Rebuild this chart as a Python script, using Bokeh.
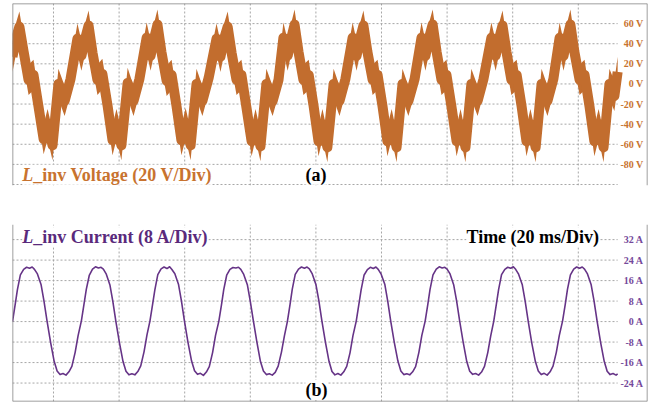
from bokeh.plotting import figure
from bokeh.layouts import column
from bokeh.models import Range1d, Label, Span
from bokeh.core.properties import value
from bokeh.embed import file_html
from bokeh.resources import INLINE

# ---------------- data (time in ms from start of trace) ----------------
# L_inv voltage: centre of the switching band (V), read at the turning points
voltage_t = [0.0,
    1.2, 2.1, 3.4, 4.9, 6.4, 7.9, 9.5, 10.7, 12.2, 14.0, 15.9, 17.7,
    19.8, 21.0, 22.3, 23.2, 24.4, 25.9, 27.4, 29.0, 30.5, 31.7, 33.2, 35.1, 36.9, 38.7,
    40.9, 42.1, 43.3, 44.2, 45.4, 47.0, 48.5, 50.0, 51.5, 52.8, 54.3, 56.1, 57.9, 59.8,
    62.2, 63.4, 64.6, 65.6, 66.8, 68.3, 69.8, 71.3, 72.9, 74.1, 75.6, 77.4, 79.3, 81.1,
    82.6, 83.9, 85.1, 86.0, 87.2, 88.7, 90.3, 91.8, 93.3, 94.5, 96.0, 97.9, 99.7, 101.5,
    103.7, 104.9, 106.1, 107.0, 108.2, 109.8, 111.3, 112.8, 114.3, 115.6, 117.1, 118.9, 120.7, 122.6,
    124.7, 125.9, 127.1, 128.1, 129.3, 130.8, 132.3, 133.8, 135.4, 136.6, 138.1, 139.9, 141.8, 143.6,
    146.0, 147.3, 148.5, 149.4, 150.6, 152.1, 153.7, 155.2, 156.7, 157.9, 159.5, 161.3, 163.1, 164.9,
    166.8, 168.0, 169.2, 170.1, 171.3, 172.9, 174.4, 175.9, 177.4, 178.7, 180.2, 182.0, 183.5, 184.5]
voltage_v = [27,
    47, 57, 32, 4, 9, -22, -55, -40, -61, 0, -17, 5,
    45, 28, 47, 58, 31, 4, 10, -22, -56, -40, -61, 1, -17, 5,
    46, 28, 47, 59, 32, 3, 9, -22, -56, -39, -61, 0, -17, 6,
    45, 27, 46, 57, 31, 4, 9, -23, -57, -40, -62, 0, -17, 4,
    46, 28, 47, 59, 32, 4, 9, -22, -57, -40, -63, 0, -17, 5,
    46, 28, 47, 58, 32, 4, 9, -22, -57, -40, -63, 0, -17, 5,
    46, 28, 47, 59, 32, 4, 9, -22, -57, -40, -63, 0, -17, 5,
    46, 28, 47, 58, 32, 4, 9, -22, -57, -40, -63, 0, -17, 5,
    46, 28, 47, 59, 32, 4, 9, -22, -57, -40, -63, 0, -12, 12]
ripple_v = 15  # half-height of the high-frequency switching band (V)

# L_inv current (A)
current_t = [
    0.0, 0.8, 1.5, 2.4, 3.4, 4.3, 5.2, 6.0, 6.7, 7.6, 8.7, 9.6, 10.5, 11.6, 12.7, 13.6, 14.5, 15.4, 16.3, 17.2, 18.1, 19.1, 20.0,
    21.0, 21.8, 22.5, 23.4, 24.4, 25.3, 26.2, 27.0, 27.7, 28.6, 29.7, 30.6, 31.5, 32.6, 33.7, 34.6, 35.5, 36.4, 37.3, 38.2, 39.1, 40.1, 41.0,
    41.9, 42.7, 43.4, 44.3, 45.3, 46.2, 47.1, 47.9, 48.6, 49.5, 50.6, 51.5, 52.4, 53.5, 54.6, 55.5, 56.4, 57.3, 58.2, 59.1, 60.0, 61.0, 61.9,
    62.9, 63.7, 64.4, 65.3, 66.3, 67.2, 68.1, 68.9, 69.6, 70.5, 71.6, 72.5, 73.4, 74.5, 75.6, 76.5, 77.4, 78.3, 79.2, 80.1, 81.0, 82.0, 82.9,
    83.8, 84.6, 85.3, 86.2, 87.2, 88.1, 89.0, 89.8, 90.5, 91.4, 92.5, 93.4, 94.3, 95.4, 96.5, 97.4, 98.3, 99.2, 100.1, 101.0, 101.9, 102.9, 103.8,
    104.8, 105.6, 106.3, 107.2, 108.2, 109.1, 110.0, 110.8, 111.5, 112.4, 113.5, 114.4, 115.3, 116.4, 117.5, 118.4, 119.3, 120.2, 121.1, 122.0, 122.9, 123.9, 124.8,
    125.8, 126.6, 127.3, 128.2, 129.2, 130.1, 131.0, 131.8, 132.5, 133.4, 134.5, 135.4, 136.3, 137.4, 138.5, 139.4, 140.3, 141.2, 142.1, 143.0, 143.9, 144.9, 145.8,
    146.7, 147.5, 148.2, 149.1, 150.1, 151.0, 151.9, 152.7, 153.4, 154.3, 155.4, 156.3, 157.2, 158.3, 159.4, 160.3, 161.2, 162.1, 163.0, 163.9, 164.8, 165.8, 166.7,
    167.7, 168.5, 169.2, 170.1, 171.1, 172.0, 172.9, 173.7, 174.4, 175.3, 176.4, 177.3, 178.2, 179.3, 180.4, 181.3, 182.2, 183.1, 184.0, 184.5]
current_a = [
    0.0, 6.5, 12.5, 18.2, 20.4, 21.2, 20.8, 21.3, 20.4, 18.6, 14.5, 8.0, 0.5, -8.0, -15.5, -19.3, -20.7, -20.3, -20.9, -19.6, -17.5, -12.0, -5.5,
    0.3, 6.8, 12.6, 18.0, 20.5, 21.4, 20.9, 21.2, 20.5, 18.5, 14.3, 7.8, 0.2, -8.2, -15.6, -19.4, -20.8, -20.4, -20.8, -19.5, -17.3, -11.8, -5.2,
    0.2, 6.6, 12.4, 18.3, 20.6, 21.3, 20.7, 21.4, 20.3, 18.7, 14.6, 8.1, 0.4, -8.1, -15.4, -19.2, -20.6, -20.2, -21.0, -19.7, -17.6, -12.1, -5.4,
    0.1, 6.4, 12.5, 18.1, 20.4, 21.1, 20.9, 21.2, 20.4, 18.4, 14.4, 7.9, 0.6, -7.9, -15.6, -19.3, -20.7, -20.4, -20.9, -19.8, -17.4, -11.9, -5.6,
    0.0, 6.5, 12.7, 18.4, 20.5, 21.3, 20.8, 21.3, 20.6, 18.6, 14.5, 8.2, 0.5, -8.0, -15.5, -19.5, -20.8, -20.3, -20.9, -19.6, -17.5, -12.2, -5.5,
    0.2, 6.7, 12.5, 18.2, 20.3, 21.2, 20.7, 21.3, 20.4, 18.5, 14.6, 8.0, 0.3, -8.1, -15.4, -19.3, -20.7, -20.4, -20.8, -19.6, -17.6, -12.0, -5.4,
    0.1, 6.5, 12.6, 18.2, 20.5, 21.4, 20.9, 21.2, 20.5, 18.6, 14.4, 8.1, 0.5, -8.0, -15.6, -19.4, -20.6, -20.3, -20.9, -19.7, -17.5, -12.1, -5.6,
    0.0, 6.6, 12.5, 18.3, 20.4, 21.2, 20.8, 21.4, 20.4, 18.5, 14.5, 8.0, 0.4, -8.2, -15.5, -19.3, -20.7, -20.2, -20.9, -19.6, -17.4, -12.0, -5.5,
    0.2, 6.5, 12.6, 18.2, 20.5, 21.3, 20.8, 21.3, 20.5, 18.6, 14.5, 8.1, 0.5, -8.1, -15.5, -19.4, -20.7, -20.3, -20.9, -20.4]

# divisions / tick labels
time_div = [12.5, 32.5, 52.5, 72.5, 92.5, 112.5, 132.5, 152.5, 172.5]
v_grid = [60, 40, 20, 0, -20, -40, -60, -80, -100]
v_ticks = [60, 40, 20, 0, -20, -40, -60, -80]
v_labels = ["60 V", "40 V", "20 V", "0 V", "-20 V", "-40 V", "-60 V", "-80 V"]
a_ticks = [32, 24, 16, 8, 0, -8, -16, -24]
a_labels = ["32 A", "24 A", "16 A", "8 A", "0 A", "-8 A", "-16 A", "-24 A"]

# ---------------- styling ----------------
ORANGE = "#C26D2E"
ORANGE_TXT = "#C8732F"
PURPLE = "#663487"
PURPLE_TXT = "#5A2A7C"
PURPLE_TICK = "#74489A"
GRID = "#A6A6A6"
BORDER = "#808080"
FONT = "Liberation Serif"

T0, T1 = 0.0, 193.6
trace_end = max(voltage_t)


def base_fig(height, y0, y1, top, bottom):
    p = figure(width=662, height=height, output_backend="svg", toolbar_location=None,
               x_range=Range1d(T0, T1), y_range=Range1d(y0, y1),
               x_axis_location=None, y_axis_location=None,
               min_border_left=12, min_border_right=15,
               min_border_top=top, min_border_bottom=bottom)
    p.xgrid.visible = False
    p.ygrid.visible = False
    p.outline_line_color = None
    p.background_fill_color = "white"
    p.border_fill_color = "white"
    return p


def add_grid(p, hlines, y0, y1):
    p.segment(x0=T0, x1=trace_end, y0=hlines, y1=hlines,
              line_color=GRID, line_width=1, line_dash="2 2")
    p.segment(x0=time_div, x1=time_div, y0=y0, y1=y1,
              line_color=GRID, line_width=1, line_dash="2 2")


def title(p, x, y, rest, color):
    p.add_layout(Label(x=x, y=y, text="L", text_font=FONT, text_font_style="bold italic",
                       text_font_size="18px", text_color=color, text_baseline="bottom",
                       background_fill_color="white"))
    p.add_layout(Label(x=x, y=y, x_offset=11, text=rest, text_font=FONT,
                       text_font_style="bold", text_font_size="18px", text_color=color,
                       text_baseline="bottom", background_fill_color="white"))


def plain(p, x, y, txt):
    p.add_layout(Label(x=x, y=y, text=txt, text_font=FONT, text_font_style="bold",
                       text_font_size="18px", text_color="black", text_baseline="bottom",
                       background_fill_color="white"))


# ---------------- (a) voltage ----------------
VY0, VY1 = -101, 80
p1 = base_fig(205, VY0, VY1, 3, 20)
add_grid(p1, v_grid, VY0, VY1)
v_low = [v - ripple_v for v in voltage_v]
v_high = [v + ripple_v for v in voltage_v]
p1.varea(x=voltage_t, y1=v_low, y2=v_high, fill_color=ORANGE, fill_alpha=1)
p1.line(voltage_t, voltage_v, line_color=ORANGE, line_width=10, line_join="round")
p1.text(x=T1, y=v_ticks, text=v_labels, x_offset=-4, text_align="right",
        text_baseline="middle", text_font=value(FONT), text_font_style="bold",
        text_font_size="10px", text_color=ORANGE_TXT)
title(p1, 3.0, -100.2, "_inv Voltage (20 V/Div)", ORANGE_TXT)
plain(p1, 89.3, -100.2, "(a)")
for loc, dim in [(VY1, "width"), (T0, "height"), (T1, "height")]:
    p1.add_layout(Span(location=loc, dimension=dim, line_color=BORDER, line_width=1.5))

# ---------------- (b) current ----------------
AY0, AY1 = -31.2, 37.9
p2 = base_fig(199, AY0, AY1, 19, 3)
add_grid(p2, a_ticks, AY0, AY1)
p2.line(current_t, current_a, line_color=PURPLE, line_width=1.6, line_join="round")
p2.text(x=T1, y=a_ticks, text=a_labels, x_offset=-4, text_align="right",
        text_baseline="middle", text_font=value(FONT), text_font_style="bold",
        text_font_size="10px", text_color=PURPLE_TICK)
title(p2, 3.0, 29.0, "_inv Current (8 A/Div)", PURPLE_TXT)
plain(p2, 138.4, 29.0, "Time (20 ms/Div)")
plain(p2, 89.3, -30.6, "(b)")
for loc, dim in [(AY0, "width"), (T0, "height"), (T1, "height")]:
    p2.add_layout(Span(location=loc, dimension=dim, line_color=BORDER, line_width=1.5))

layout = column(p1, p2, spacing=0)
open("out.html", "w").write(file_html(layout, INLINE))
